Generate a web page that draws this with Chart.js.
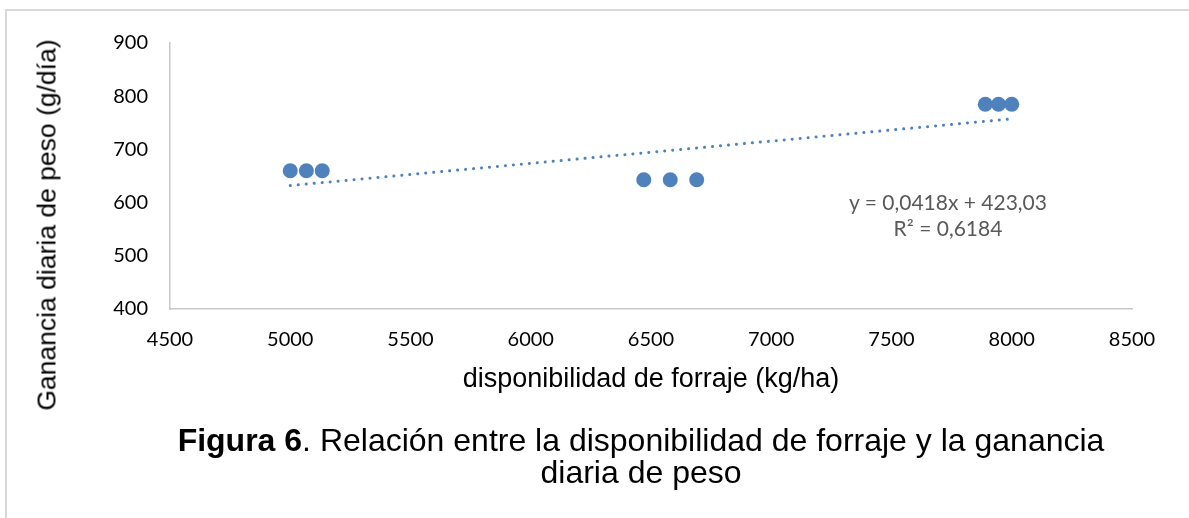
<!DOCTYPE html>
<html>
<head>
<meta charset="utf-8">
<script src="https://cdn.jsdelivr.net/npm/chart.js@4.4.1/dist/chart.umd.min.js"></script>
<style>
html,body{margin:0;padding:0;background:#fff;}
#wrap{position:relative;width:1189px;height:518px;overflow:hidden;background:#fff;}
#frame{position:absolute;left:5px;top:9px;width:1300px;height:700px;border-left:2px solid #d9d9d9;border-top:2px solid #d9d9d9;}
#c{position:absolute;left:0;top:0;}
#ytitle{position:absolute;left:47px;top:225px;transform:translate(-50%,-50%) rotate(-90deg);font:26.5px "Liberation Sans",Arial,sans-serif;white-space:nowrap;color:#000;}
#eq{position:absolute;left:948px;top:189px;transform:translateX(-50%);font:21px Lato,"Open Sans",sans-serif;color:#595959;text-align:center;line-height:26px;white-space:nowrap;}
#cap{position:absolute;left:141px;width:1000px;top:424px;text-align:center;font:32px "Liberation Sans",Arial,sans-serif;line-height:32px;color:#000;}
</style>
</head>
<body>
<div id="wrap">
  <div id="frame"></div>
  <canvas id="c" width="1189" height="518"></canvas>
  <div id="ytitle">Ganancia diaria de peso (g/día)</div>
  <div id="eq">y = 0,0418x + 423,03<br>R² = 0,6184</div>
  <div id="cap"><b>Figura 6</b>. Relación entre la disponibilidad de forraje y la ganancia<br>diaria de peso</div>
</div>
<script>
// Data
const forraje = [5000, 5067, 5133, 6470, 6580, 6690, 7890, 7945, 8000];
const ganancia = [660, 660, 660, 643, 643, 643, 785, 785, 785];
// Trend line end points (y = 0,0418x + 423,03 as printed)
const trendX = [5000, 8000];
const trendY = [632.0, 757.4];
const xTicks = [4500, 5000, 5500, 6000, 6500, 7000, 7500, 8000, 8500];
const yTicks = [400, 500, 600, 700, 800, 900];
const xTitle = 'disponibilidad de forraje (kg/ha)';

const blue = '#4F81BD';
const points = forraje.map((x, i) => ({x: x, y: ganancia[i]}));
const trend = trendX.map((x, i) => ({x: x, y: trendY[i]}));

new Chart(document.getElementById('c'), {
  type: 'scatter',
  data: {
    datasets: [
      {
        data: trend,
        showLine: true,
        borderColor: blue,
        borderWidth: 3,
        borderDash: [0.1, 7.9],
        borderCapStyle: 'round',
        pointRadius: 0,
        pointHoverRadius: 0,
        order: 2
      },
      {
        data: points,
        backgroundColor: blue,
        borderColor: blue,
        borderWidth: 0,
        pointRadius: 7.5,
        pointHoverRadius: 7.5,
        order: 1
      }
    ]
  },
  options: {
    responsive: false,
    animation: false,
    events: [],
    layout: {padding: {left: 0, top: 43, right: 57, bottom: 122}},
    plugins: {legend: {display: false}, tooltip: {enabled: false}, title: {display: false}},
    scales: {
      x: {
        type: 'linear',
        min: xTicks[0], max: xTicks[xTicks.length - 1],
        afterBuildTicks: s => { s.ticks = xTicks.map(v => ({value: v})); },
        afterFit: s => { s.height = 87; },
        grid: {display: false, drawTicks: false},
        border: {display: true, color: '#c8c8c8', width: 1.5},
        ticks: {
          padding: 19,
          color: '#000',
          font: {family: 'Lato', size: 20},
          callback: v => String(v)
        },
        title: {
          display: true,
          text: xTitle,
          color: '#000',
          font: {family: '"Liberation Sans", Arial', size: 27},
          padding: {top: 0, bottom: 0}
        }
      },
      y: {
        type: 'linear',
        min: yTicks[0], max: yTicks[yTicks.length - 1],
        afterBuildTicks: s => { s.ticks = yTicks.map(v => ({value: v})); },
        afterFit: s => { s.width = 170; },
        grid: {display: false, drawTicks: false},
        border: {display: true, color: '#c8c8c8', width: 1.5},
        ticks: {
          padding: 22,
          color: '#000',
          font: {family: 'Lato', size: 20},
          callback: v => String(v)
        }
      }
    }
  }
});
</script>
</body>
</html>
